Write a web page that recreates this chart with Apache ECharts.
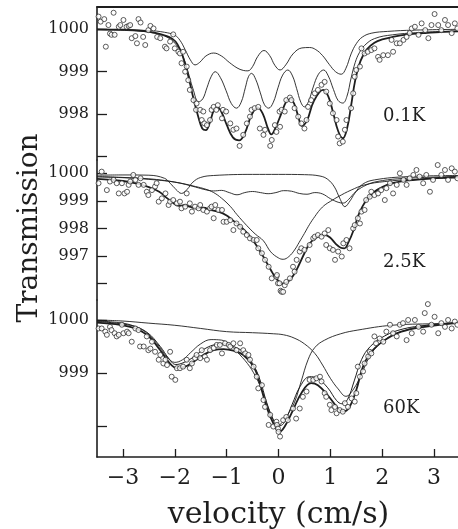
<!DOCTYPE html>
<html>
<head>
<meta charset="utf-8">
<script src="https://cdn.jsdelivr.net/npm/echarts@6/dist/echarts.min.js"></script>
<style>
  html, body { margin: 0; padding: 0; background: #fff; }
  #chart { width: 458px; height: 529px; }
</style>
</head>
<body>
<div id="chart"></div>
<script>
// velocity ticks (cm/s), shared by the three spectra
const velocityTicks = [-3, -2, -1, 0, 1, 2, 3];

// ---- 0.1 K ----
const ticks01 = [997, 998, 999, 1000];
const labels01 = [998, 999, 1000];
const fit01Total = [[-3.5,1000.0],[-3.0,999.99],[-2.6,999.96],[-2.4,999.92],[-2.2,999.86],[-2.05,999.78],[-1.95,999.65],[-1.85,999.38],[-1.75,998.95],[-1.65,998.42],[-1.55,997.95],[-1.47,997.66],[-1.40,997.62],[-1.33,997.78],[-1.25,998.08],[-1.18,998.17],[-1.10,998.05],[-1.0,997.75],[-0.88,997.45],[-0.76,997.38],[-0.65,997.55],[-0.52,997.98],[-0.40,998.16],[-0.30,998.0],[-0.20,997.65],[-0.14,997.52],[-0.05,997.7],[0.05,998.0],[0.15,998.3],[0.22,998.37],[0.30,998.25],[0.38,997.95],[0.45,997.72],[0.55,997.85],[0.68,998.3],[0.86,998.57],[0.96,998.42],[1.05,998.05],[1.15,997.6],[1.24,997.43],[1.32,997.65],[1.40,998.2],[1.48,998.8],[1.58,999.25],[1.70,999.52],[1.85,999.68],[2.0,999.76],[2.2,999.82],[2.5,999.88],[2.8,999.91],[3.2,999.94],[3.5,999.95]];
const fit01SubA = [[-3.5,1000.0],[-2.5,999.97],[-2.2,999.93],[-2.0,999.86],[-1.9,999.74],[-1.8,999.52],[-1.7,999.28],[-1.61,999.16],[-1.52,999.22],[-1.40,999.37],[-1.25,999.44],[-1.10,999.37],[-0.95,999.22],[-0.80,999.09],[-0.68,999.03],[-0.59,999.02],[-0.50,999.12],[-0.40,999.36],[-0.28,999.5],[-0.17,999.38],[-0.07,999.15],[0.03,999.04],[0.14,999.16],[0.28,999.42],[0.45,999.56],[0.60,999.57],[0.72,999.52],[0.85,999.38],[0.98,999.17],[1.10,999.0],[1.21,998.94],[1.30,999.08],[1.40,999.42],[1.50,999.66],[1.62,999.82],[1.80,999.91],[2.1,999.95],[2.6,999.98],[3.5,1000.0]];
const fit01SubB = [[-3.5,999.99],[-2.6,999.95],[-2.3,999.88],[-2.1,999.78],[-1.95,999.6],[-1.85,999.38],[-1.75,999.02],[-1.65,998.6],[-1.54,998.29],[-1.46,998.36],[-1.38,998.62],[-1.30,998.88],[-1.22,999.0],[-1.12,998.86],[-1.01,998.55],[-0.91,998.25],[-0.81,998.14],[-0.72,998.28],[-0.64,998.62],[-0.58,998.88],[-0.52,998.96],[-0.44,998.82],[-0.35,998.5],[-0.27,998.22],[-0.19,998.14],[-0.10,998.28],[-0.01,998.62],[0.08,998.92],[0.18,999.04],[0.27,998.9],[0.35,998.6],[0.43,998.28],[0.50,998.17],[0.58,998.3],[0.67,998.64],[0.77,998.94],[0.87,999.04],[0.96,998.9],[1.06,998.58],[1.15,998.32],[1.24,998.26],[1.32,998.42],[1.40,998.85],[1.48,999.22],[1.56,999.45],[1.66,999.62],[1.85,999.78],[2.2,999.87],[2.8,999.93],[3.5,999.96]];
const data01 = [[-3.47,1000.30],[-3.43,1000.18],[-3.36,1000.24],[-3.33,999.59],[-3.28,1000.10],[-3.25,999.90],[-3.22,999.87],[-3.18,1000.39],[-3.16,999.87],[-3.08,1000.06],[-3.05,1000.10],[-2.99,1000.22],[-2.93,1000.06],[-2.89,1000.08],[-2.86,1000.10],[-2.83,999.79],[-2.76,999.84],[-2.73,999.67],[-2.70,1000.24],[-2.66,1000.16],[-2.61,999.82],[-2.57,999.63],[-2.51,999.98],[-2.47,1000.08],[-2.41,1000.02],[-2.34,999.82],[-2.28,999.79],[-2.19,999.59],[-2.16,999.55],[-2.09,999.71],[-2.03,999.88],[-2.00,999.55],[-1.93,999.47],[-1.90,999.43],[-1.87,999.20],[-1.84,999.47],[-1.80,999.00],[-1.77,999.12],[-1.74,998.80],[-1.71,998.57],[-1.64,998.33],[-1.59,998.10],[-1.58,998.25],[-1.51,998.10],[-1.48,997.86],[-1.45,998.06],[-1.43,997.78],[-1.38,997.74],[-1.32,997.86],[-1.29,998.10],[-1.25,998.17],[-1.20,998.10],[-1.17,998.21],[-1.09,997.90],[-1.07,998.10],[-1.01,998.06],[-0.93,997.78],[-0.87,997.63],[-0.81,997.66],[-0.75,997.25],[-0.68,997.51],[-0.61,997.78],[-0.55,997.94],[-0.52,998.10],[-0.46,998.14],[-0.39,998.17],[-0.36,997.66],[-0.29,997.51],[-0.26,997.63],[-0.16,997.25],[-0.13,997.39],[-0.07,997.74],[-0.04,997.58],[0.02,998.06],[0.03,997.70],[0.06,998.10],[0.12,998.06],[0.15,998.33],[0.22,998.39],[0.25,998.33],[0.31,998.14],[0.38,997.94],[0.44,997.78],[0.50,997.66],[0.54,997.86],[0.57,998.17],[0.63,998.33],[0.70,998.49],[0.76,998.57],[0.83,998.69],[0.89,998.76],[0.92,998.53],[0.99,998.25],[1.05,998.02],[1.12,997.86],[1.15,997.47],[1.18,997.31],[1.24,997.35],[1.28,997.63],[1.31,997.86],[1.40,998.14],[1.44,998.49],[1.47,998.88],[1.50,999.04],[1.57,999.12],[1.60,999.55],[1.66,999.43],[1.72,999.47],[1.79,999.51],[1.85,999.55],[1.92,999.35],[1.95,999.28],[2.02,999.39],[2.11,999.39],[2.18,999.75],[2.21,999.47],[2.28,999.67],[2.34,999.67],[2.41,999.75],[2.47,999.82],[2.53,999.91],[2.57,1000.02],[2.63,1000.06],[2.70,999.87],[2.76,1000.14],[2.83,999.98],[2.89,999.79],[2.95,1000.10],[3.01,1000.36],[3.08,1000.10],[3.14,999.98],[3.21,1000.22],[3.27,1000.10],[3.34,999.91],[3.40,1000.14],[3.45,1000.02]];

// ---- 2.5 K ----
const ticks25 = [996, 997, 998, 999, 1000];
const labels25 = [997, 998, 999, 1000];
const fit25Total = [[-3.5,999.8],[-3.0,999.72],[-2.7,999.62],[-2.5,999.5],[-2.3,999.33],[-2.15,999.1],[-2.03,998.92],[-1.92,998.82],[-1.82,998.84],[-1.70,998.78],[-1.58,998.73],[-1.45,998.75],[-1.30,998.66],[-1.15,998.6],[-1.0,998.47],[-0.9,998.32],[-0.75,998.1],[-0.6,997.82],[-0.45,997.45],[-0.3,997.0],[-0.15,996.5],[-0.05,996.2],[0.08,996.0],[0.2,996.1],[0.31,996.37],[0.4,996.7],[0.5,997.1],[0.6,997.45],[0.7,997.64],[0.8,997.74],[0.9,997.76],[1.0,997.66],[1.1,997.45],[1.2,997.3],[1.27,997.28],[1.35,997.5],[1.45,997.95],[1.53,998.43],[1.62,998.8],[1.72,999.08],[1.85,999.33],[2.0,999.5],[2.2,999.64],[2.5,999.74],[3.0,999.82],[3.5,999.87]];
const fit25Broad = [[-3.5,999.87],[-3.0,999.84],[-2.5,999.78],[-2.0,999.68],[-1.6,999.52],[-1.4,999.42],[-1.25,999.3],[-1.1,999.1],[-0.93,998.8],[-0.8,998.5],[-0.61,998.1],[-0.45,997.8],[-0.29,997.55],[-0.15,997.15],[0.0,996.93],[0.09,996.88],[0.2,996.98],[0.31,997.22],[0.4,997.5],[0.5,997.82],[0.6,998.15],[0.7,998.43],[0.8,998.68],[0.9,998.86],[1.0,998.98],[1.15,999.15],[1.4,999.39],[1.66,999.58],[2.05,999.7],[2.6,999.78],[3.5,999.83]];
const fit25Doublet = [[-3.5,999.93],[-3.0,999.94],[-2.5,999.93],[-2.2,999.82],[-2.09,999.64],[-1.98,999.42],[-1.87,999.27],[-1.76,999.42],[-1.65,999.68],[-1.5,999.85],[-1.25,999.92],[-0.5,999.96],[0.0,999.96],[0.5,999.95],[0.8,999.9],[0.95,999.78],[1.08,999.5],[1.18,999.1],[1.28,998.79],[1.38,999.0],[1.47,999.27],[1.62,999.6],[1.85,999.76],[2.5,999.88],[3.5,999.92]];
const fit25Sextet = [[-3.5,999.88],[-3.0,999.85],[-2.5,999.8],[-2.2,999.74],[-2.0,999.68],[-1.8,999.6],[-1.6,999.5],[-1.4,999.4],[-1.25,999.36],[-1.1,999.38],[-0.95,999.3],[-0.8,999.22],[-0.65,999.3],[-0.5,999.34],[-0.35,999.3],[-0.2,999.26],[-0.05,999.3],[0.1,999.37],[0.25,999.35],[0.4,999.27],[0.55,999.24],[0.7,999.3],[0.85,999.25],[1.0,999.08],[1.15,998.95],[1.25,998.92],[1.35,999.05],[1.5,999.35],[1.7,999.58],[1.9,999.7],[2.3,999.8],[3.0,999.86],[3.5,999.88]];
const data25 = [[-3.47,999.64],[-3.41,1000.06],[-3.31,999.39],[-3.25,999.70],[-3.18,999.76],[-3.12,999.64],[-3.08,999.27],[-3.02,999.64],[-2.97,999.27],[-2.92,999.33],[-2.89,999.58],[-2.86,999.70],[-2.80,999.94],[-2.76,999.76],[-2.70,999.58],[-2.66,999.82],[-2.60,999.58],[-2.54,999.33],[-2.51,999.21],[-2.44,999.39],[-2.38,999.52],[-2.35,999.64],[-2.31,998.97],[-2.25,999.09],[-2.18,999.27],[-2.12,998.85],[-2.09,998.97],[-2.03,999.03],[-1.96,998.91],[-1.90,998.97],[-1.87,998.73],[-1.80,998.79],[-1.77,999.27],[-1.71,998.91],[-1.67,998.61],[-1.61,998.79],[-1.54,998.73],[-1.51,998.85],[-1.45,998.67],[-1.38,998.61],[-1.32,998.73],[-1.29,998.79],[-1.25,998.37],[-1.22,998.85],[-1.16,998.67],[-1.09,998.67],[-1.06,998.24],[-1.00,998.24],[-0.93,998.30],[-0.87,997.94],[-0.81,998.18],[-0.74,998.06],[-0.68,997.88],[-0.61,997.76],[-0.55,997.64],[-0.48,997.58],[-0.42,997.58],[-0.39,997.28],[-0.32,997.10],[-0.26,996.86],[-0.19,996.61],[-0.13,996.19],[-0.04,996.25],[-0.03,996.31],[-0.01,996.01],[0.02,996.01],[0.04,995.74],[0.06,995.70],[0.09,995.70],[0.12,995.94],[0.15,996.06],[0.22,996.19],[0.28,996.61],[0.31,996.43],[0.35,996.86],[0.41,997.16],[0.44,997.28],[0.50,997.22],[0.57,996.86],[0.60,997.40],[0.67,997.64],[0.70,997.70],[0.76,997.76],[0.83,997.70],[0.89,997.82],[0.92,997.40],[0.96,997.94],[0.99,997.28],[1.05,997.22],[1.09,996.86],[1.15,997.16],[1.22,996.98],[1.25,997.46],[1.31,997.58],[1.37,997.28],[1.44,998.00],[1.47,998.12],[1.53,998.37],[1.57,998.18],[1.60,998.61],[1.66,998.67],[1.69,999.03],[1.76,999.15],[1.79,999.33],[1.85,999.21],[1.92,999.27],[1.98,999.39],[2.05,999.03],[2.08,999.46],[2.15,999.64],[2.21,999.27],[2.28,999.58],[2.34,1000.00],[2.41,999.76],[2.47,999.58],[2.53,999.82],[2.60,999.94],[2.66,1000.12],[2.72,999.88],[2.79,999.64],[2.85,999.94],[2.92,999.33],[2.98,999.76],[3.07,1000.30],[3.14,999.94],[3.21,1000.12],[3.27,999.76],[3.34,1000.18],[3.40,1000.06],[3.45,999.82]];

// ---- 60 K ----
const ticks60 = [998, 999, 1000];
const labels60 = [999, 1000];
const fit60Total = [[-3.5,999.95],[-2.86,999.87],[-2.54,999.72],[-2.28,999.43],[-2.12,999.21],[-1.96,999.09],[-1.80,999.12],[-1.64,999.21],[-1.45,999.34],[-1.25,999.43],[-1.06,999.45],[-0.87,999.42],[-0.68,999.34],[-0.48,999.12],[-0.36,998.8],[-0.23,998.36],[-0.10,998.05],[0.02,997.89],[0.12,997.99],[0.28,998.3],[0.44,998.62],[0.63,998.81],[0.76,998.77],[0.95,998.58],[1.15,998.33],[1.24,998.27],[1.37,998.36],[1.50,998.68],[1.63,999.12],[1.79,999.4],[2.05,999.62],[2.37,999.78],[2.82,999.87],[3.5,999.95]];
const fit60Upper = [[-3.5,999.97],[-2.86,999.9],[-2.54,999.77],[-2.28,999.5],[-2.12,999.28],[-1.98,999.16],[-1.82,999.2],[-1.64,999.3],[-1.45,999.44],[-1.25,999.53],[-1.06,999.55],[-0.87,999.5],[-0.68,999.4],[-0.5,999.18],[-0.36,998.88],[-0.23,998.45],[-0.10,998.12],[0.0,998.0],[0.1,998.05],[0.26,998.4],[0.42,998.75],[0.6,998.93],[0.75,998.9],[0.95,998.72],[1.12,998.48],[1.22,998.42],[1.33,998.5],[1.46,998.85],[1.6,999.25],[1.77,999.5],[2.05,999.7],[2.4,999.83],[2.85,999.9],[3.5,999.96]];
const fit60Left = [[-3.5,999.98],[-3.0,999.94],[-2.7,999.85],[-2.5,999.72],[-2.3,999.5],[-2.15,999.3],[-2.0,999.2],[-1.85,999.25],[-1.7,999.38],[-1.5,999.55],[-1.3,999.63],[-1.1,999.62],[-0.95,999.55],[-0.8,999.4],[-0.6,999.18],[-0.45,998.95],[-0.34,998.72],[-0.2,998.35],[-0.08,998.08],[0.0,998.02],[0.1,998.1],[0.2,998.25],[0.31,998.45],[0.44,998.85],[0.57,999.25],[0.7,999.48],[0.89,999.62],[1.2,999.74],[1.53,999.81],[2.18,999.9],[3.0,999.93],[3.5,999.94]];
const fit60Right = [[-3.5,1000.0],[-3.0,999.98],[-2.5,999.94],[-2.0,999.9],[-1.5,999.84],[-1.0,999.78],[-0.5,999.76],[-0.1,999.74],[0.1,999.72],[0.3,999.66],[0.5,999.55],[0.7,999.37],[0.85,999.15],[1.0,998.9],[1.15,998.7],[1.3,998.56],[1.45,998.7],[1.6,998.98],[1.75,999.3],[1.9,999.5],[2.1,999.66],[2.3,999.76],[2.8,999.89],[3.5,999.94]];
const data60 = [[-3.47,999.84],[-3.41,999.84],[-3.34,999.78],[-3.31,999.72],[-3.25,999.87],[-3.22,999.81],[-3.16,999.75],[-3.12,999.69],[-3.08,999.72],[-3.02,999.91],[-2.99,999.75],[-2.92,999.78],[-2.89,999.75],[-2.83,999.59],[-2.76,999.84],[-2.70,999.81],[-2.67,999.50],[-2.60,999.50],[-2.54,999.69],[-2.51,999.43],[-2.47,999.46],[-2.44,999.59],[-2.38,999.40],[-2.31,999.25],[-2.28,999.34],[-2.22,999.18],[-2.18,999.25],[-2.15,999.15],[-2.09,999.40],[-2.06,998.93],[-1.99,998.87],[-1.96,999.09],[-1.90,999.09],[-1.84,999.12],[-1.77,999.25],[-1.71,999.09],[-1.67,999.18],[-1.61,999.28],[-1.58,999.34],[-1.51,999.28],[-1.48,999.43],[-1.42,999.31],[-1.38,999.25],[-1.32,999.43],[-1.25,999.47],[-1.19,999.53],[-1.13,999.53],[-1.09,999.37],[-1.03,999.56],[-0.96,999.53],[-0.93,999.50],[-0.87,999.56],[-0.81,999.43],[-0.74,999.56],[-0.68,999.43],[-0.64,999.37],[-0.58,999.34],[-0.55,999.25],[-0.48,999.12],[-0.42,998.93],[-0.39,998.71],[-0.32,998.77],[-0.29,998.49],[-0.26,998.36],[-0.19,998.02],[-0.16,998.21],[-0.10,997.99],[-0.04,998.08],[-0.03,998.02],[-0.01,997.95],[0.00,997.89],[0.03,997.80],[0.09,998.11],[0.15,998.17],[0.18,998.11],[0.28,998.33],[0.34,998.14],[0.41,998.33],[0.47,998.55],[0.54,998.65],[0.60,998.87],[0.67,998.87],[0.73,998.90],[0.80,998.93],[0.83,998.84],[0.89,998.62],[0.92,998.55],[0.99,998.40],[1.02,998.30],[1.09,998.36],[1.12,998.24],[1.18,998.30],[1.24,998.27],[1.28,998.43],[1.34,998.36],[1.41,998.52],[1.47,998.46],[1.50,998.62],[1.53,999.12],[1.57,998.93],[1.63,999.03],[1.66,999.18],[1.73,999.31],[1.76,999.40],[1.79,999.37],[1.85,999.69],[1.88,999.56],[1.95,999.65],[2.02,999.59],[2.08,999.78],[2.15,999.91],[2.21,999.75],[2.28,999.69],[2.34,999.91],[2.40,999.94],[2.47,999.62],[2.50,1000.00],[2.57,999.75],[2.63,1000.00],[2.70,999.87],[2.79,999.78],[2.82,1000.13],[2.88,1000.30],[2.95,999.91],[3.01,1000.06],[3.08,999.75],[3.14,999.94],[3.21,999.87],[3.27,1000.00],[3.34,999.84],[3.40,999.97],[3.45,999.91]];

const ink = '#1e1e1e';
const serif = 'DejaVu Serif';

const chart = echarts.init(document.getElementById('chart'), null, {renderer: 'canvas'});

function curve(data, idx, width) {
    return {
        type: 'line', data, xAxisIndex: idx, yAxisIndex: idx,
        smooth: 0.4, showSymbol: false, silent: true, z: 2,
        lineStyle: {color: ink, width}
    };
}

function points(data, idx) {
    return {
        type: 'scatter', data, xAxisIndex: idx, yAxisIndex: idx,
        symbol: 'circle', symbolSize: 5, silent: true, z: 3,
        itemStyle: {color: '#fff', borderColor: ink, borderWidth: 0.9}
    };
}

function yAxisFor(idx, min, max, ticks, labels) {
    return {
        type: 'value', gridIndex: idx, min, max,
        axisLine: {show: true, onZero: false, lineStyle: {color: ink, width: 1.6}},
        axisTick: {show: true, inside: true, length: 10, customValues: ticks, lineStyle: {color: ink, width: 1.3}},
        axisLabel: {customValues: labels, formatter: v => String(v), margin: 8, color: ink, fontFamily: serif, fontSize: 16},
        splitLine: {show: false}
    };
}

const minus = v => (v < 0 ? '\u2212' + Math.abs(v) : String(v));

// outerBoundsMode 'none' keeps the grids at the exact pixel positions given
const option = {
    animation: false,
    backgroundColor: '#fff',
    grid: [
        {left: 97, top: 7, width: 363, height: 153, outerBoundsMode: 'none', containLabel: false},
        {left: 97, top: 160, width: 363, height: 140, outerBoundsMode: 'none', containLabel: false},
        {left: 97, top: 300, width: 363, height: 157, outerBoundsMode: 'none', containLabel: false}
    ],
    xAxis: [
        {
            type: 'value', gridIndex: 0, min: -3.5, max: 3.5, position: 'top',
            axisLine: {show: true, onZero: false, lineStyle: {color: ink, width: 1.8}},
            axisTick: {show: false}, axisLabel: {show: false}, splitLine: {show: false}
        },
        {type: 'value', gridIndex: 1, min: -3.5, max: 3.5, show: false},
        {
            type: 'value', gridIndex: 2, min: -3.5, max: 3.5, position: 'bottom',
            axisLine: {show: true, onZero: false, lineStyle: {color: ink, width: 1.6}},
            axisTick: {show: true, inside: true, length: 8, customValues: velocityTicks, lineStyle: {color: ink, width: 1.3}},
            axisLabel: {customValues: velocityTicks, formatter: minus, margin: 10, color: ink, fontFamily: serif, fontSize: 22},
            splitLine: {show: false},
            name: 'velocity (cm/s)', nameLocation: 'middle', nameGap: 43,
            nameTextStyle: {color: ink, fontFamily: serif, fontSize: 30}
        }
    ],
    yAxis: [
        yAxisFor(0, 996.917, 1000.526, ticks01, labels01),
        yAxisFor(1, 995.404, 1000.482, ticks25, labels25),
        yAxisFor(2, 997.415, 1000.377, ticks60, labels60)
    ],
    graphic: [
        {type: 'text', x: 30, y: 228, rotation: Math.PI / 2,
         style: {text: 'Transmission', fill: ink, font: '28px "DejaVu Serif"', align: 'center', verticalAlign: 'middle'}},
        {type: 'text', x: 383, y: 116, style: {text: '0.1K', fill: ink, font: '18px "DejaVu Serif"', verticalAlign: 'middle'}},
        {type: 'text', x: 383, y: 262, style: {text: '2.5K', fill: ink, font: '18px "DejaVu Serif"', verticalAlign: 'middle'}},
        {type: 'text', x: 383, y: 408, style: {text: '60K', fill: ink, font: '18px "DejaVu Serif"', verticalAlign: 'middle'}}
    ],
    series: [
        curve(fit01SubA, 0, 0.9),
        curve(fit01SubB, 0, 0.9),
        curve(fit01Total, 0, 1.8),
        points(data01, 0),

        curve(fit25Doublet, 1, 0.9),
        curve(fit25Sextet, 1, 0.9),
        curve(fit25Broad, 1, 0.9),
        curve(fit25Total, 1, 1.8),
        points(data25, 1),

        curve(fit60Right, 2, 0.9),
        curve(fit60Left, 2, 0.9),
        curve(fit60Upper, 2, 1.0),
        curve(fit60Total, 2, 1.8),
        points(data60, 2)
    ]
};

chart.setOption(option);
</script>
</body>
</html>
